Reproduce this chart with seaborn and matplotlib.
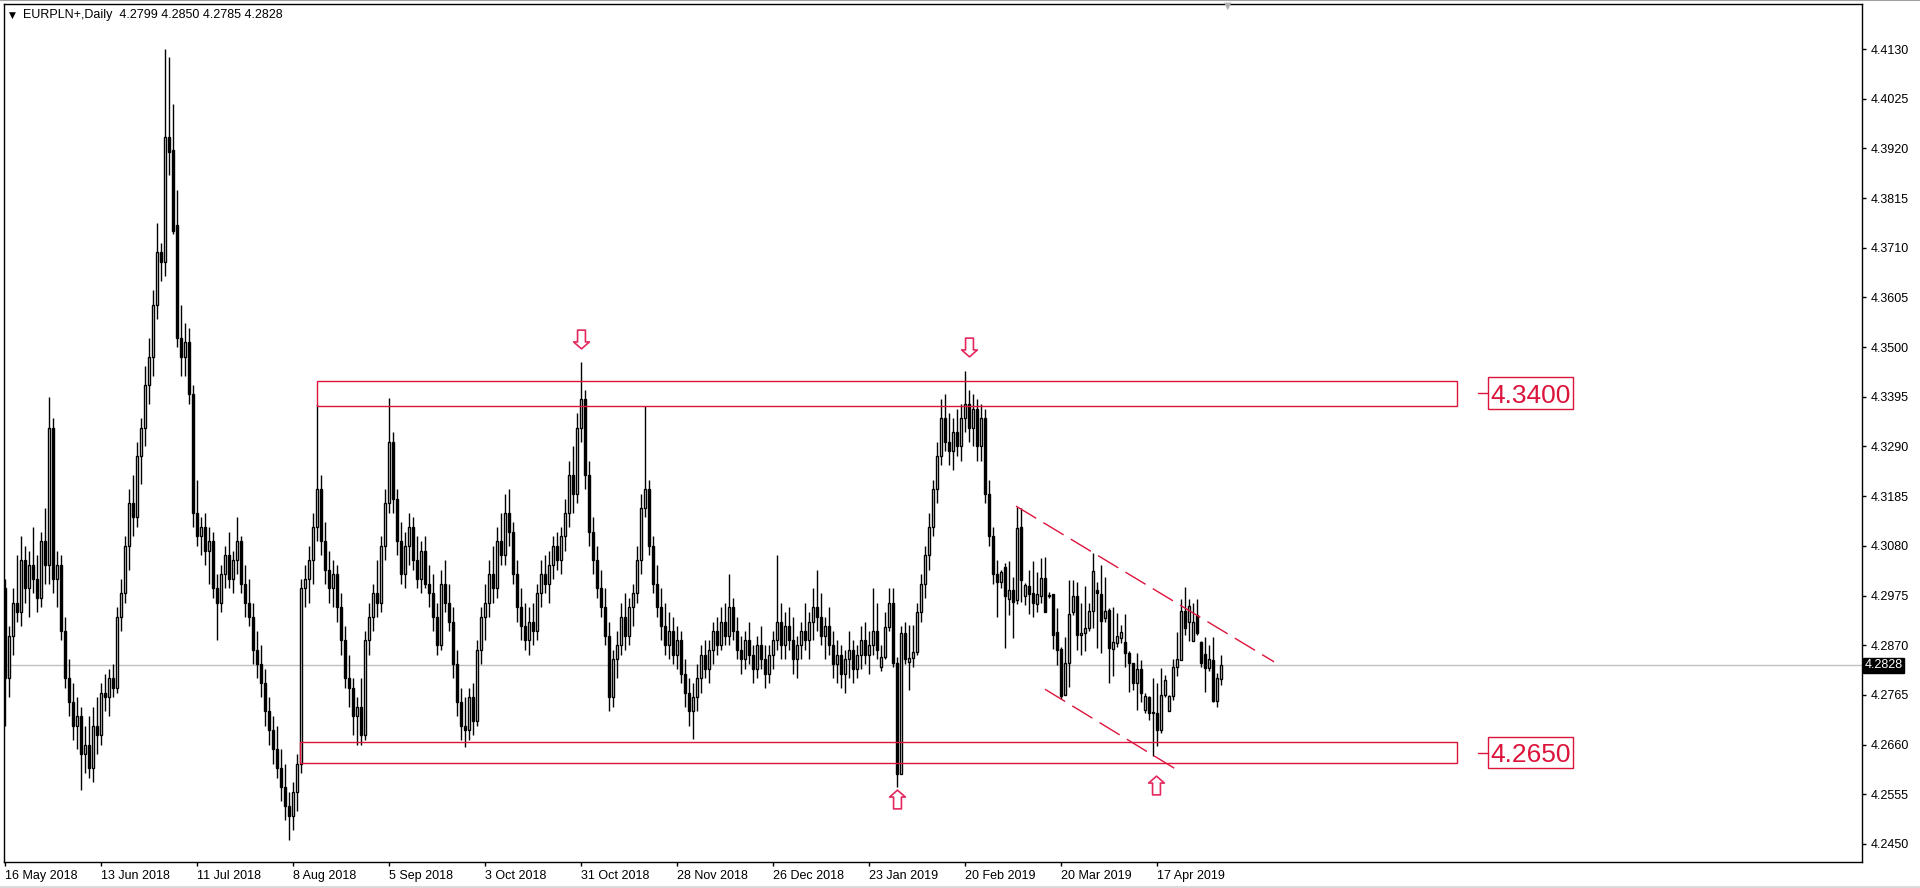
import numpy as np
import matplotlib
matplotlib.use("Agg")
import matplotlib.pyplot as plt
import matplotlib.patches as mpatches
from matplotlib.path import Path
import seaborn as sns

# ---------------- data: daily OHLC, bar 0 = 16 May 2018 ----------------
OPEN = [
    4.2990, 4.2800, 4.2890, 4.2960, 4.2940, 4.3050, 4.2990, 4.3040, 4.3010, 4.2970,
    4.3090, 4.3040, 4.3330, 4.3010, 4.3040, 4.2900, 4.2800, 4.2750, 4.2700, 4.2720,
    4.2640, 4.2660, 4.2610, 4.2700, 4.2680, 4.2770, 4.2760, 4.2800, 4.2780, 4.2930,
    4.2980, 4.3080, 4.3170, 4.3140, 4.3270, 4.3330, 4.3420, 4.3480, 4.3590, 4.3700,
    4.3680, 4.3943, 4.3917, 4.3758, 4.3520, 4.3480, 4.3510, 4.3400, 4.3150, 4.3100,
    4.3120, 4.3070, 4.3090, 4.2990, 4.2960, 4.3020, 4.3060, 4.3010, 4.3050, 4.3090,
    4.3000, 4.2960, 4.2930, 4.2860, 4.2830, 4.2790, 4.2730, 4.2690, 4.2650, 4.2610,
    4.2570, 4.2530, 4.2510, 4.2560, 4.2620, 4.2990, 4.3010, 4.3050, 4.3120, 4.3200,
    4.3090, 4.3030, 4.2990, 4.3020, 4.2950, 4.2880, 4.2800, 4.2780, 4.2720, 4.2740,
    4.2680, 4.2880, 4.2930, 4.2980, 4.2960, 4.3080, 4.3170, 4.3300, 4.3180, 4.3090,
    4.3020, 4.3080, 4.3120, 4.3050, 4.3010, 4.3070, 4.3000, 4.2980, 4.2930, 4.2870,
    4.3000, 4.2960, 4.2920, 4.2830, 4.2750, 4.2700, 4.2690, 4.2760, 4.2710, 4.2860,
    4.2930, 4.2960, 4.3020, 4.2990, 4.3090, 4.3060, 4.3150, 4.3110, 4.3020, 4.2950,
    4.2910, 4.2880, 4.2920, 4.2900, 4.2980, 4.3020, 4.3000, 4.3040, 4.3080, 4.3050,
    4.3100, 4.3150, 4.3230, 4.3190, 4.3330, 4.3390, 4.3230, 4.3110, 4.3050, 4.2990,
    4.2950, 4.2890, 4.2760, 4.2840, 4.2870, 4.2930, 4.2890, 4.2950, 4.2980, 4.3050,
    4.3160, 4.3200, 4.3080, 4.3000, 4.2950, 4.2910, 4.2870, 4.2900, 4.2850, 4.2880,
    4.2810, 4.2770, 4.2730, 4.2760, 4.2800, 4.2850, 4.2820, 4.2860, 4.2900, 4.2870,
    4.2920, 4.2890, 4.2950, 4.2900, 4.2860, 4.2840, 4.2880, 4.2850, 4.2820, 4.2870,
    4.2840, 4.2810, 4.2850, 4.2880, 4.2920, 4.2870, 4.2910, 4.2880, 4.2840, 4.2870,
    4.2900, 4.2880, 4.2920, 4.2950, 4.2930, 4.2890, 4.2910, 4.2870, 4.2830, 4.2850,
    4.2810, 4.2840, 4.2860, 4.2820, 4.2850, 4.2880, 4.2850, 4.2870, 4.2900, 4.2825,
    4.2846, 4.2909, 4.2960, 4.2833, 4.2598, 4.2895, 4.2835, 4.2844, 4.2855, 4.2940,
    4.3000, 4.3060, 4.3120, 4.3200, 4.3270, 4.3350, 4.3300, 4.3280, 4.3320, 4.3290,
    4.3350, 4.3380, 4.3330, 4.3370, 4.3290, 4.3350, 4.3190, 4.3100, 4.3020, 4.3004,
    4.3036, 4.2968, 4.2987, 4.2966, 4.3119, 4.2974, 4.2995, 4.2980, 4.2958, 4.2975,
    4.3013, 4.2977, 4.2978, 4.2898, 4.2862, 4.2764, 4.2833, 4.2941, 4.2973, 4.2892,
    4.2895, 4.2907, 4.2942, 4.2986, 4.2978, 4.2927, 4.2945, 4.2861, 4.2874, 4.2885,
    4.2876, 4.2854, 4.2832, 4.2791, 4.2820, 4.2733, 4.2760, 4.2728, 4.2726, 4.2691,
    4.2765, 4.2732, 4.2763, 4.2823, 4.2838, 4.2942, 4.2920, 4.2879, 4.2934, 4.2876,
    4.2852, 4.2821, 4.2839, 4.2753, 4.2799]
HIGH = [
    4.3010, 4.2910, 4.2990, 4.3060, 4.3100, 4.3080, 4.3070, 4.3120, 4.3060, 4.3110,
    4.3160, 4.3395, 4.3350, 4.3070, 4.3060, 4.2930, 4.2840, 4.2790, 4.2760, 4.2740,
    4.2700, 4.2720, 4.2740, 4.2760, 4.2790, 4.2810, 4.2820, 4.2830, 4.2950, 4.3010,
    4.3100, 4.3200, 4.3230, 4.3300, 4.3350, 4.3460, 4.3520, 4.3620, 4.3762, 4.3720,
    4.4131, 4.4114, 4.4014, 4.3833, 4.3590, 4.3550, 4.3540, 4.3420, 4.3220, 4.3140,
    4.3150, 4.3120, 4.3110, 4.3020, 4.3040, 4.3080, 4.3110, 4.3070, 4.3140, 4.3100,
    4.3040, 4.3010, 4.2960, 4.2900, 4.2870, 4.2820, 4.2760, 4.2720, 4.2700, 4.2650,
    4.2620, 4.2560, 4.2580, 4.2640, 4.3010, 4.3040, 4.3080, 4.3150, 4.3380, 4.3230,
    4.3130, 4.3070, 4.3050, 4.3040, 4.2980, 4.2910, 4.2850, 4.2800, 4.2760, 4.2800,
    4.2900, 4.2960, 4.3000, 4.3050, 4.3100, 4.3200, 4.3392, 4.3320, 4.3200, 4.3130,
    4.3110, 4.3150, 4.3140, 4.3100, 4.3090, 4.3100, 4.3040, 4.3020, 4.2960, 4.3030,
    4.3050, 4.3000, 4.2950, 4.2860, 4.2780, 4.2760, 4.2780, 4.2790, 4.2880, 4.2950,
    4.3000, 4.3050, 4.3080, 4.3120, 4.3150, 4.3190, 4.3200, 4.3130, 4.3050, 4.2990,
    4.2960, 4.2950, 4.2960, 4.3000, 4.3050, 4.3060, 4.3070, 4.3100, 4.3110, 4.3120,
    4.3180, 4.3260, 4.3290, 4.3360, 4.3468, 4.3410, 4.3260, 4.3140, 4.3080, 4.3030,
    4.2990, 4.2920, 4.2860, 4.2900, 4.2960, 4.2980, 4.2970, 4.3000, 4.3080, 4.3190,
    4.3375, 4.3220, 4.3100, 4.3040, 4.2990, 4.2960, 4.2940, 4.2930, 4.2910, 4.2900,
    4.2840, 4.2800, 4.2790, 4.2830, 4.2870, 4.2880, 4.2880, 4.2920, 4.2930, 4.2950,
    4.2960, 4.3020, 4.2970, 4.2930, 4.2890, 4.2900, 4.2920, 4.2870, 4.2890, 4.2910,
    4.2870, 4.2870, 4.2900, 4.3060, 4.2960, 4.2940, 4.2950, 4.2930, 4.2890, 4.2920,
    4.2960, 4.2940, 4.2990, 4.3030, 4.2980, 4.2930, 4.2950, 4.2900, 4.2880, 4.2870,
    4.2860, 4.2900, 4.2880, 4.2870, 4.2910, 4.2920, 4.2900, 4.2990, 4.2960, 4.2870,
    4.2940, 4.2990, 4.2990, 4.2845, 4.2910, 4.2920, 4.2913, 4.2913, 4.2960, 4.3020,
    4.3080, 4.3150, 4.3220, 4.3300, 4.3390, 4.3400, 4.3360, 4.3350, 4.3370, 4.3380,
    4.3449, 4.3410, 4.3400, 4.3390, 4.3380, 4.3370, 4.3220, 4.3120, 4.3050, 4.3030,
    4.3043, 4.3047, 4.3015, 4.3163, 4.3159, 4.3001, 4.3029, 4.3047, 4.3025, 4.3054,
    4.3057, 4.2982, 4.2978, 4.2948, 4.2867, 4.2888, 4.3008, 4.3008, 4.3004, 4.2960,
    4.2995, 4.2960, 4.3065, 4.3004, 4.3040, 4.3015, 4.2948, 4.2950, 4.2938, 4.2912,
    4.2935, 4.2857, 4.2832, 4.2853, 4.2839, 4.2770, 4.2762, 4.2800, 4.2790, 4.2821,
    4.2808, 4.2765, 4.2840, 4.2899, 4.2967, 4.2992, 4.2967, 4.2959, 4.2967, 4.2878,
    4.2888, 4.2870, 4.2888, 4.2811, 4.2850]
LOW = [
    4.2700, 4.2760, 4.2850, 4.2920, 4.2910, 4.2960, 4.2930, 4.2980, 4.2940, 4.2950,
    4.3000, 4.3000, 4.2980, 4.2950, 4.2880, 4.2780, 4.2720, 4.2670, 4.2650, 4.2565,
    4.2600, 4.2590, 4.2580, 4.2640, 4.2660, 4.2730, 4.2720, 4.2760, 4.2770, 4.2900,
    4.2960, 4.3030, 4.3100, 4.3120, 4.3210, 4.3290, 4.3380, 4.3440, 4.3560, 4.3640,
    4.3650, 4.3864, 4.3740, 4.3500, 4.3440, 4.3440, 4.3380, 4.3120, 4.3080, 4.3060,
    4.3040, 4.3000, 4.2970, 4.2880, 4.2940, 4.2990, 4.2990, 4.2980, 4.3020, 4.2980,
    4.2930, 4.2910, 4.2830, 4.2800, 4.2760, 4.2700, 4.2660, 4.2620, 4.2590, 4.2540,
    4.2500, 4.2459, 4.2480, 4.2520, 4.2600, 4.2950, 4.2960, 4.3000, 4.3090, 4.3060,
    4.3000, 4.2960, 4.2950, 4.2920, 4.2850, 4.2780, 4.2740, 4.2680, 4.2660, 4.2660,
    4.2670, 4.2850, 4.2900, 4.2930, 4.2940, 4.3050, 4.3150, 4.3150, 4.3060, 4.3000,
    4.2990, 4.3040, 4.3030, 4.2990, 4.2980, 4.2990, 4.2950, 4.2900, 4.2850, 4.2860,
    4.2940, 4.2900, 4.2800, 4.2720, 4.2670, 4.2655, 4.2670, 4.2680, 4.2700, 4.2830,
    4.2880, 4.2930, 4.2960, 4.2970, 4.3040, 4.3040, 4.3080, 4.3000, 4.2920, 4.2880,
    4.2860, 4.2850, 4.2870, 4.2880, 4.2950, 4.2980, 4.2960, 4.3010, 4.3030, 4.3020,
    4.3070, 4.3120, 4.3150, 4.3170, 4.3300, 4.3200, 4.3080, 4.3020, 4.2970, 4.2930,
    4.2870, 4.2732, 4.2740, 4.2800, 4.2850, 4.2860, 4.2870, 4.2910, 4.2960, 4.3020,
    4.3140, 4.3060, 4.2980, 4.2930, 4.2880, 4.2850, 4.2840, 4.2830, 4.2820, 4.2790,
    4.2740, 4.2700, 4.2672, 4.2730, 4.2770, 4.2800, 4.2790, 4.2830, 4.2850, 4.2860,
    4.2870, 4.2870, 4.2880, 4.2840, 4.2810, 4.2820, 4.2830, 4.2790, 4.2800, 4.2820,
    4.2780, 4.2790, 4.2820, 4.2860, 4.2840, 4.2840, 4.2860, 4.2810, 4.2800, 4.2840,
    4.2860, 4.2840, 4.2880, 4.2900, 4.2870, 4.2840, 4.2850, 4.2800, 4.2790, 4.2780,
    4.2770, 4.2800, 4.2790, 4.2800, 4.2820, 4.2830, 4.2810, 4.2850, 4.2840, 4.2815,
    4.2840, 4.2900, 4.2825, 4.2571, 4.2598, 4.2830, 4.2776, 4.2825, 4.2850, 4.2920,
    4.2970, 4.3030, 4.3100, 4.3170, 4.3250, 4.3280, 4.3250, 4.3240, 4.3270, 4.3260,
    4.3320, 4.3300, 4.3290, 4.3260, 4.3260, 4.3170, 4.3080, 4.3000, 4.2930, 4.2990,
    4.2864, 4.2934, 4.2885, 4.2958, 4.2962, 4.2955, 4.2937, 4.2930, 4.2941, 4.2959,
    4.2941, 4.2969, 4.2863, 4.2828, 4.2756, 4.2764, 4.2782, 4.2934, 4.2860, 4.2850,
    4.2857, 4.2900, 4.2906, 4.2864, 4.2853, 4.2920, 4.2790, 4.2804, 4.2867, 4.2875,
    4.2825, 4.2772, 4.2776, 4.2733, 4.2751, 4.2726, 4.2712, 4.2635, 4.2656, 4.2684,
    4.2761, 4.2730, 4.2754, 4.2804, 4.2838, 4.2892, 4.2879, 4.2878, 4.2892, 4.2823,
    4.2772, 4.2815, 4.2751, 4.2740, 4.2785]
CLOSE = [
    4.2800, 4.2890, 4.2960, 4.2940, 4.3050, 4.2990, 4.3040, 4.3010, 4.2970, 4.3090,
    4.3040, 4.3330, 4.3010, 4.3040, 4.2900, 4.2800, 4.2750, 4.2700, 4.2720, 4.2640,
    4.2660, 4.2610, 4.2700, 4.2680, 4.2770, 4.2760, 4.2800, 4.2780, 4.2930, 4.2980,
    4.3080, 4.3170, 4.3140, 4.3270, 4.3330, 4.3420, 4.3480, 4.3590, 4.3700, 4.3680,
    4.3943, 4.3913, 4.3746, 4.3520, 4.3480, 4.3510, 4.3400, 4.3150, 4.3100, 4.3120,
    4.3070, 4.3090, 4.2990, 4.2960, 4.3020, 4.3060, 4.3010, 4.3050, 4.3090, 4.3000,
    4.2960, 4.2930, 4.2860, 4.2830, 4.2790, 4.2730, 4.2690, 4.2650, 4.2610, 4.2570,
    4.2530, 4.2510, 4.2560, 4.2620, 4.2990, 4.3010, 4.3050, 4.3120, 4.3200, 4.3090,
    4.3030, 4.2990, 4.3020, 4.2950, 4.2880, 4.2800, 4.2780, 4.2720, 4.2740, 4.2680,
    4.2880, 4.2930, 4.2980, 4.2960, 4.3080, 4.3170, 4.3300, 4.3180, 4.3090, 4.3020,
    4.3080, 4.3120, 4.3050, 4.3010, 4.3070, 4.3000, 4.2980, 4.2930, 4.2870, 4.3000,
    4.2960, 4.2920, 4.2830, 4.2750, 4.2700, 4.2690, 4.2760, 4.2710, 4.2860, 4.2930,
    4.2960, 4.3020, 4.2990, 4.3090, 4.3060, 4.3150, 4.3110, 4.3020, 4.2950, 4.2910,
    4.2880, 4.2920, 4.2900, 4.2980, 4.3020, 4.3000, 4.3040, 4.3080, 4.3050, 4.3100,
    4.3150, 4.3230, 4.3190, 4.3330, 4.3390, 4.3230, 4.3110, 4.3050, 4.2990, 4.2950,
    4.2890, 4.2760, 4.2840, 4.2870, 4.2930, 4.2890, 4.2950, 4.2980, 4.3050, 4.3160,
    4.3200, 4.3080, 4.3000, 4.2950, 4.2910, 4.2870, 4.2900, 4.2850, 4.2880, 4.2810,
    4.2770, 4.2730, 4.2760, 4.2800, 4.2850, 4.2820, 4.2860, 4.2900, 4.2870, 4.2920,
    4.2890, 4.2950, 4.2900, 4.2860, 4.2840, 4.2880, 4.2850, 4.2820, 4.2870, 4.2840,
    4.2810, 4.2850, 4.2880, 4.2920, 4.2870, 4.2910, 4.2880, 4.2840, 4.2870, 4.2900,
    4.2880, 4.2920, 4.2950, 4.2930, 4.2890, 4.2910, 4.2870, 4.2830, 4.2850, 4.2810,
    4.2840, 4.2860, 4.2820, 4.2850, 4.2880, 4.2850, 4.2870, 4.2900, 4.2860, 4.2846,
    4.2909, 4.2960, 4.2833, 4.2598, 4.2895, 4.2840, 4.2842, 4.2855, 4.2940, 4.3000,
    4.3060, 4.3120, 4.3200, 4.3270, 4.3350, 4.3300, 4.3280, 4.3320, 4.3290, 4.3350,
    4.3380, 4.3330, 4.3370, 4.3290, 4.3350, 4.3190, 4.3100, 4.3020, 4.3004, 4.3025,
    4.2973, 4.2987, 4.2962, 4.3117, 4.3008, 4.2997, 4.2978, 4.2960, 4.2978, 4.3013,
    4.2941, 4.2975, 4.2892, 4.2860, 4.2763, 4.2833, 4.2935, 4.2973, 4.2892, 4.2895,
    4.2906, 4.2942, 4.3027, 4.2980, 4.2922, 4.2942, 4.2864, 4.2876, 4.2890, 4.2897,
    4.2854, 4.2833, 4.2791, 4.2820, 4.2770, 4.2763, 4.2726, 4.2726, 4.2690, 4.2765,
    4.2797, 4.2763, 4.2823, 4.2840, 4.2942, 4.2906, 4.2953, 4.2920, 4.2895, 4.2832,
    4.2821, 4.2840, 4.2753, 4.2800, 4.2828]

DATE_LABELS = ["16 May 2018", "13 Jun 2018", "11 Jul 2018", "8 Aug 2018", "5 Sep 2018", "3 Oct 2018",
               "31 Oct 2018", "28 Nov 2018", "26 Dec 2018", "23 Jan 2019", "20 Feb 2019", "20 Mar 2019",
               "17 Apr 2019"]
DATE_BARS = [0, 24, 48, 72, 96, 120, 144, 168, 192, 216, 240, 264, 288]
PRICE_TICKS = [4.2450, 4.2555, 4.2660, 4.2765, 4.2870, 4.2975, 4.3080, 4.3185, 4.3290, 4.3395,
               4.3500, 4.3605, 4.3710, 4.3815, 4.3920, 4.4025, 4.4130]
LAST_PRICE = 4.2828
TITLE = "EURPLN+,Daily  4.2799 4.2850 4.2785 4.2828"

LEVELS = [4.3400, 4.2650]
ZONES = [(78.0, 363.0, 4.33756, 4.34284), (73.75, 363.0, 4.26211, 4.26655)]
TRENDLINES = [((252.75, 4.3164), (317.25, 4.2835)), ((260.0, 4.2777), (293.5, 4.2604))]
ARROWS = [(144.0, 4.3517, "down"), (241.0, 4.3500, "down"), (223.0, 4.2545, "up"), (287.75, 4.2575, "up")]

RED = "#DC143C"

sns.set_theme(style="white")
plt.rcParams['font.family'] = ['Liberation Sans', 'DejaVu Sans']

W, H = 1920, 888
fig = plt.figure(figsize=(W / 100, H / 100), dpi=100)
fig.patch.set_facecolor("white")
ax = fig.add_axes([4 / W, 1 - 862 / H, 1858 / W, 858 / H])
ax.set_facecolor("white")

ax.set_xlim(-0.25, 464.25)
ax.set_ylim(4.24119, 4.42251)

x = np.arange(len(CLOSE))
o = np.array(OPEN)
c = np.array(CLOSE)
h = np.array(HIGH)
l = np.array(LOW)
up = c >= o

# current price line (seaborn)
sns.lineplot(x=[-1, 470], y=[LAST_PRICE, LAST_PRICE], ax=ax, color="#C0C0C0", lw=1, zorder=1)

ax.vlines(x, l, h, color="black", lw=1.0, zorder=2)
bb = np.minimum(o, c)
bh = np.maximum(np.abs(c - o), 0.00008)
ax.bar(x[up], bh[up], bottom=bb[up], width=0.55, color="white", edgecolor="black", lw=1.0, zorder=3)
ax.bar(x[~up], bh[~up], bottom=bb[~up], width=0.55, color="black", edgecolor="black", lw=1.0, zorder=3)

# zones
for (x0, x1, y0, y1) in ZONES:
    ax.add_patch(mpatches.Rectangle((x0, y0), x1 - x0, y1 - y0, fill=False, edgecolor=RED, lw=1.0, zorder=4))

# level labels
for lev, (x0, x1, y0, y1) in zip(LEVELS, ZONES):
    mid = (y0 + y1) / 2
    ax.plot([368.25, 370.75], [mid, mid], color=RED, lw=1.0, zorder=4)
    ax.add_patch(mpatches.Rectangle((370.75, mid - 0.00338), 21.25, 0.00676, fill=False,
                                    edgecolor=RED, lw=1.0, zorder=4))
    ax.text(381.4, mid, f"{lev:.4f}", color=RED, fontsize=19, ha="center", va="center_baseline",
            family=["Liberation Sans", "DejaVu Sans"], zorder=5)

# dashed trend lines
for (p0, p1) in TRENDLINES:
    ax.plot([p0[0], p1[0]], [p0[1], p1[1]], color=RED, lw=1.0, ls=(0, (17, 6)), zorder=4)

# hollow arrow markers
down_verts = [(-0.42, 1.0), (0.42, 1.0), (0.42, -0.26), (0.84, -0.26), (0.0, -1.0),
              (-0.84, -0.26), (-0.42, -0.26), (-0.42, 1.0)]
down_path = Path(down_verts, [Path.MOVETO] + [Path.LINETO] * 6 + [Path.CLOSEPOLY])
up_path = Path([(vx, -vy) for vx, vy in down_verts], [Path.MOVETO] + [Path.LINETO] * 6 + [Path.CLOSEPOLY])
for (ai, price, d) in ARROWS:
    ax.plot([ai], [price], marker=down_path if d == "down" else up_path, markersize=13.5,
            markerfacecolor="white", markeredgecolor="#E4285E", markeredgewidth=1.2, zorder=5)

# axes styling
for s in ax.spines.values():
    s.set_color("black")
    s.set_linewidth(1.0)
ax.yaxis.tick_right()
ax.set_yticks(PRICE_TICKS)
ax.set_yticklabels([f"{v:.4f}" for v in PRICE_TICKS])
ax.tick_params(axis="y", which="both", direction="out", length=3, width=1, pad=3,
               labelsize=9, colors="black", right=True, left=False)
ax.set_xticks(DATE_BARS)
ax.set_xticklabels(DATE_LABELS)
ax.tick_params(axis="x", which="both", direction="out", length=3, width=1, pad=3,
               labelsize=9, colors="black", bottom=True)
for lbl in ax.get_xticklabels():
    lbl.set_ha("left")
ax.set_xlabel("")
ax.set_ylabel("")
ax.grid(False)

# last price box on the axis
ax.text(1.0015, LAST_PRICE, f"{LAST_PRICE:.4f}", transform=ax.get_yaxis_transform(), color="white",
        fontsize=9, ha="left", va="center", zorder=6,
        bbox=dict(boxstyle="square,pad=0.12", facecolor="black", edgecolor="black"), clip_on=False)

# title
fig.text(23 / W, 1 - 15 / H, TITLE, fontsize=9, ha="left", va="center", color="black")
fig.text(12 / W, 1 - 15 / H, "\u25bc", fontsize=6.5, ha="center", va="center", color="black",
         family=["DejaVu Sans"])
# chart shift marker
fig.text(1228 / W, 1 - 6 / H, "\u25bc", fontsize=7, ha="center", va="center", color="#B0B0B0",
         family=["DejaVu Sans"])

# window borders
fig.add_artist(plt.Line2D([0, 1], [1 - 0.5 / H, 1 - 0.5 / H], transform=fig.transFigure, color="#A0A0A0", lw=1.5))
fig.add_artist(plt.Line2D([0, 1], [1.5 / H, 1.5 / H], transform=fig.transFigure, color="#D8D8D8", lw=2))

fig.savefig("out.png", dpi=100, facecolor="white")
